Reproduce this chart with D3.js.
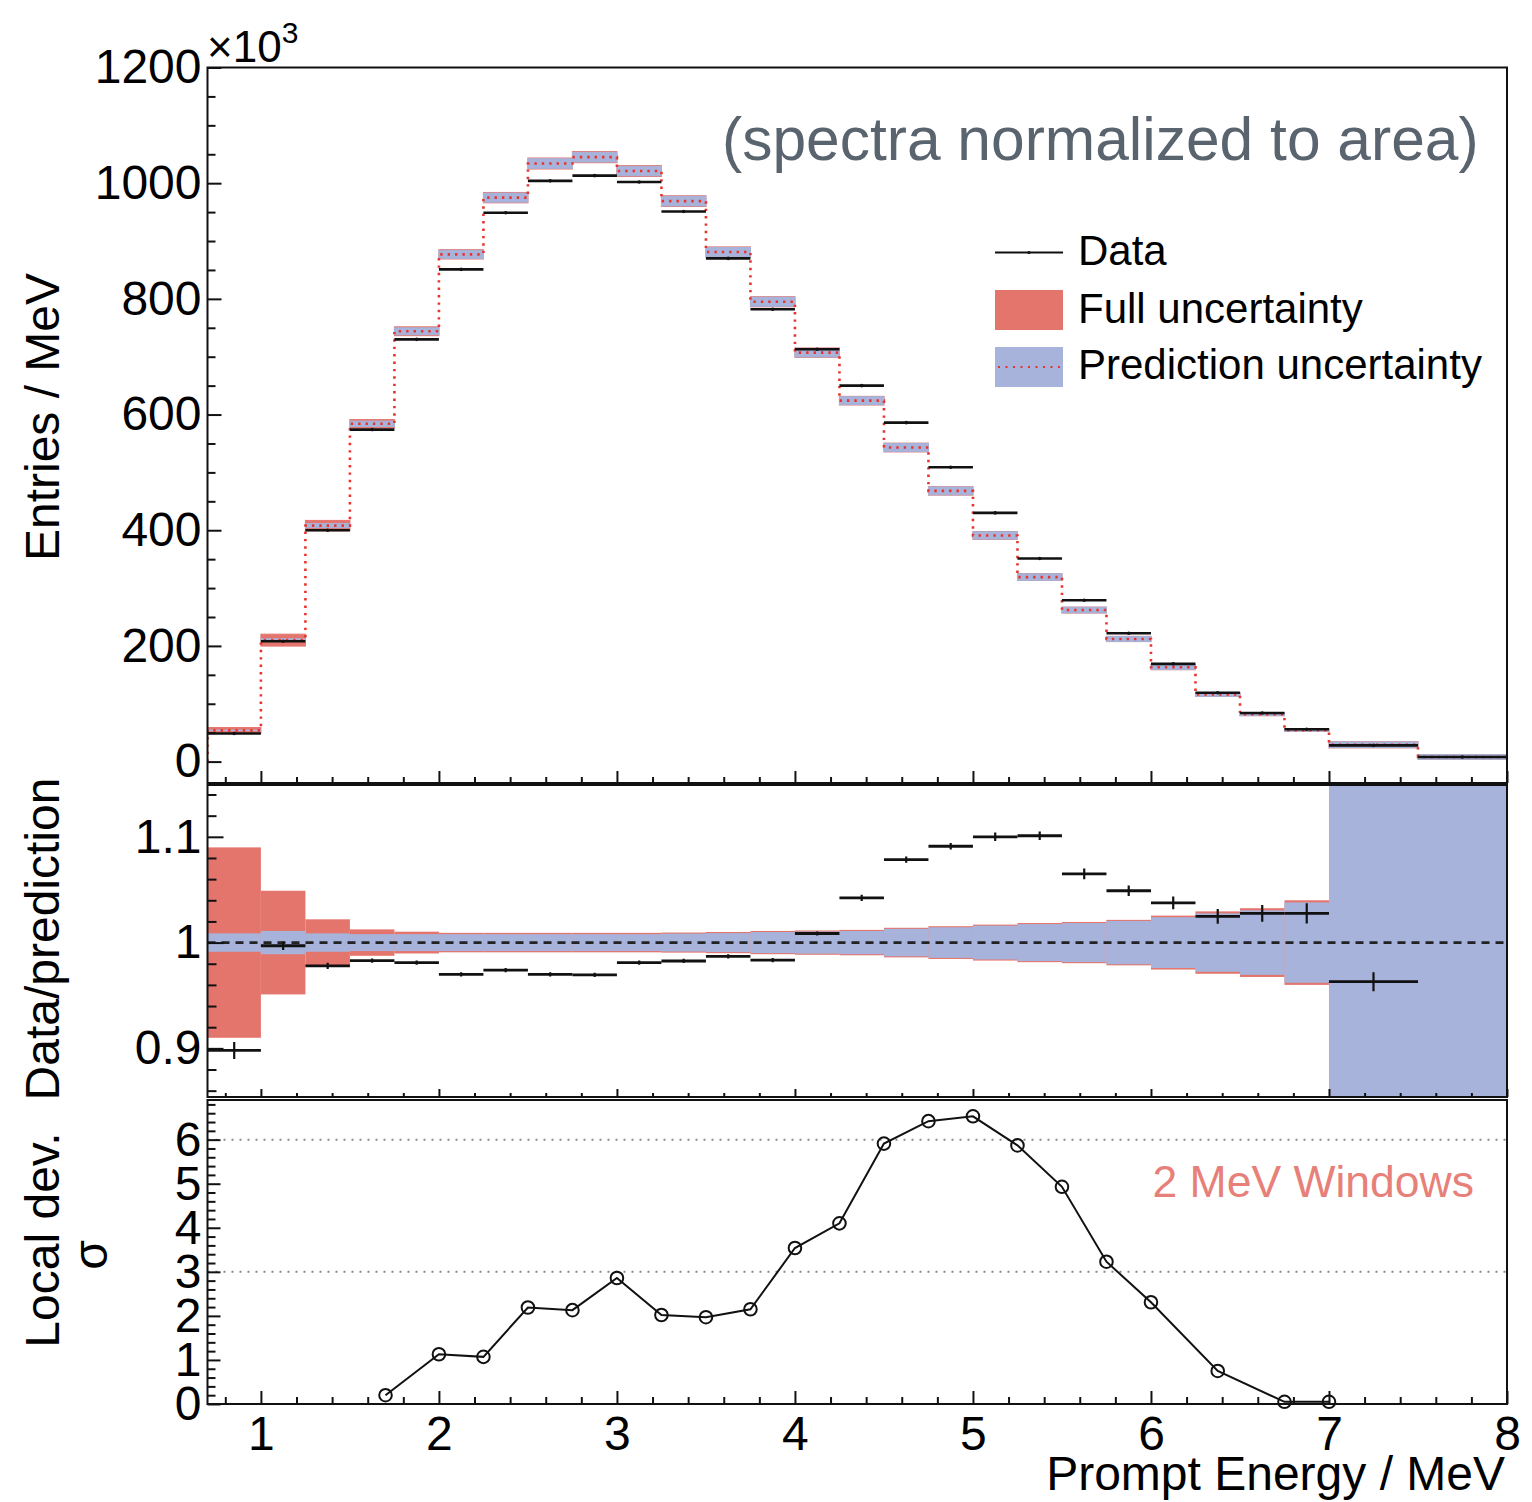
<!DOCTYPE html>
<html><head><meta charset="utf-8">
<script src="https://cdn.jsdelivr.net/npm/d3@7"></script>
<style>
body{margin:0;background:#fff}
svg{display:block}
text{font-family:"Liberation Sans",Arial,Helvetica,sans-serif}
</style>
</head><body>
<svg id="chart" width="1532" height="1502"></svg>
<script>
// ---------------- data ----------------
const binEdges = [0.7, 1.0, 1.25, 1.5, 1.75, 2.0, 2.25, 2.5, 2.75, 3.0, 3.25, 3.5, 3.75, 4.0,
  4.25, 4.5, 4.75, 5.0, 5.25, 5.5, 5.75, 6.0, 6.25, 6.5, 6.75, 7.0, 7.5, 8.0];
// entries / MeV in units of 10^3
const dataEntries = [48.5, 208, 400, 574, 730, 851, 949, 1004, 1013, 1002, 951, 870, 782, 713,
  650, 586, 509, 430, 351, 279, 222, 169, 119, 84, 56, 28, 8];
const predEntries = [54, 210, 408, 584, 744, 877, 975, 1034, 1045, 1021, 969, 881, 795, 707,
  624, 543, 468, 391, 319, 262, 212, 163, 116, 82, 54.5, 29, 8];
// relative half-widths of the uncertainty bands
const predRelUnc = [0.0087, 0.011, 0.0087, 0.008, 0.008, 0.008, 0.008, 0.008, 0.008, 0.008, 0.0085,
  0.009, 0.010, 0.0105, 0.011, 0.013, 0.0145, 0.016, 0.0175, 0.0185, 0.0205, 0.024, 0.0276, 0.0305, 0.038, 0.17, 0.5];
const fullRelUnc = [0.090, 0.049, 0.022, 0.0125, 0.0103, 0.0092, 0.0092, 0.0092, 0.0092, 0.0092, 0.0095,
  0.0100, 0.011, 0.0115, 0.012, 0.014, 0.0155, 0.017, 0.0185, 0.0195, 0.0215, 0.0255, 0.0295, 0.0325, 0.040, 0.18, 0.52];
// data / prediction
const ratioValues = [0.898, 0.997, 0.978, 0.983, 0.981, 0.970, 0.974, 0.970, 0.9695, 0.981, 0.9826,
  0.987, 0.9835, 1.0086, 1.0423, 1.0785, 1.0911, 1.100, 1.101, 1.065, 1.049, 1.0375, 1.0248, 1.0276, 1.0276, 0.963, null];
const ratioErrors = [0.008, 0.004, 0.003, 0.002, 0.002, 0.002, 0.002, 0.002, 0.002, 0.002, 0.002,
  0.002, 0.002, 0.002, 0.003, 0.003, 0.003, 0.004, 0.004, 0.005, 0.005, 0.006, 0.007, 0.008, 0.0095, 0.009, null];
// local deviation, 2 MeV windows
const sigmaEnergy = [1.7, 2.0, 2.25, 2.5, 2.75, 3.0, 3.25, 3.5, 3.75, 4.0, 4.25, 4.5, 4.75, 5.0,
  5.25, 5.5, 5.75, 6.0, 6.375, 6.75, 7.0];
const sigmaValues = [0.20, 1.13, 1.07, 2.19, 2.13, 2.86, 2.02, 1.97, 2.15, 3.54, 4.10, 5.91, 6.42, 6.53,
  5.87, 4.93, 3.23, 2.31, 0.75, 0.05, 0.05];
const sigmaRefLines = [3, 6];
// ticks
const xTicks = [1, 2, 3, 4, 5, 6, 7, 8];
const topYTicks = [0, 200, 400, 600, 800, 1000, 1200];
const ratioYTicks = [0.9, 1.0, 1.1];
const ratioYTickLabels = ["0.9", "1", "1.1"];
const sigmaYTicks = [0, 1, 2, 3, 4, 5, 6];

// ---------------- styles ----------------
const RED = "#e4756d", BLUE = "#a7b3da", DOTRED = "#e8342c";
const FONT = 48;

const svg = d3.select("#chart");
const L = 207.5, R = 1507;
const P1 = {top: 67.5, bottom: 783};
const P2 = {top: 785, bottom: 1097};
const P3 = {top: 1100, bottom: 1404};

const x = d3.scaleLinear().domain([0.7, 8]).range([L, R]);
const yTop = d3.scaleLinear().domain([-37, 1200]).range([P1.bottom, P1.top]);
const yRat = d3.scaleLinear().domain([0.854, 1.149]).range([P2.bottom, P2.top]);
const ySig = d3.scaleLinear().domain([0, 6.9]).range([P3.bottom, P3.top]);

const bins = binEdges.slice(0, -1).map((e, i) => ({
  x0: e, x1: binEdges[i + 1], d: dataEntries[i], p: predEntries[i],
  pu: predRelUnc[i], fu: fullRelUnc[i], r: ratioValues[i], re: ratioErrors[i]
}));

const defs = svg.append("defs");
[["clipTop", P1], ["clipMid", P2], ["clipBot", P3]].forEach(([id, P]) => {
  defs.append("clipPath").attr("id", id).append("rect")
    .attr("x", L).attr("y", P.top).attr("width", R - L).attr("height", P.bottom - P.top);
});

// ---------------- top panel ----------------
const gTop = svg.append("g").attr("clip-path", "url(#clipTop)");
gTop.selectAll("rect.full").data(bins).join("rect")
  .attr("x", d => x(d.x0)).attr("width", d => x(d.x1) - x(d.x0))
  .attr("y", d => yTop(d.p * (1 + d.fu))).attr("height", d => yTop(d.p * (1 - d.fu)) - yTop(d.p * (1 + d.fu)))
  .attr("fill", RED).attr("stroke", RED).attr("stroke-width", 1);
gTop.selectAll("rect.pred").data(bins).join("rect")
  .attr("x", d => x(d.x0)).attr("width", d => x(d.x1) - x(d.x0))
  .attr("y", d => yTop(d.p * (1 + d.pu))).attr("height", d => yTop(d.p * (1 - d.pu)) - yTop(d.p * (1 + d.pu)))
  .attr("fill", BLUE).attr("stroke", BLUE).attr("stroke-width", 1);

const stepPts = [[binEdges[0], 0]];
bins.forEach(b => { stepPts.push([b.x0, b.p]); stepPts.push([b.x1, b.p]); });
gTop.append("path")
  .attr("d", d3.line().x(d => x(d[0])).y(d => yTop(d[1]))(stepPts))
  .attr("fill", "none").attr("stroke", DOTRED).attr("stroke-width", 2.6)
  .attr("stroke-dasharray", "2.4,5").attr("stroke-linecap", "butt");

gTop.selectAll("line.data").data(bins).join("line")
  .attr("x1", d => x(d.x0)).attr("x2", d => x(d.x1))
  .attr("y1", d => yTop(d.d)).attr("y2", d => yTop(d.d))
  .attr("stroke", "#111").attr("stroke-width", 2.6);
gTop.selectAll("circle.data").data(bins).join("circle")
  .attr("cx", d => x((d.x0 + d.x1) / 2)).attr("cy", d => yTop(d.d)).attr("r", 1.8).attr("fill", "#111");

// ---------------- ratio panel ----------------
const gMid = svg.append("g").attr("clip-path", "url(#clipMid)");
gMid.selectAll("rect.full").data(bins).join("rect")
  .attr("x", d => x(d.x0)).attr("width", d => x(d.x1) - x(d.x0))
  .attr("y", d => yRat(1 + d.fu)).attr("height", d => yRat(1 - d.fu) - yRat(1 + d.fu))
  .attr("fill", RED);
gMid.selectAll("rect.pred").data(bins).join("rect")
  .attr("x", d => x(d.x0)).attr("width", d => x(d.x1) - x(d.x0))
  .attr("y", d => yRat(1 + d.pu)).attr("height", d => yRat(1 - d.pu) - yRat(1 + d.pu))
  .attr("fill", BLUE);
gMid.append("line")
  .attr("x1", L).attr("x2", R).attr("y1", yRat(1)).attr("y2", yRat(1))
  .attr("stroke", "#222").attr("stroke-width", 2.6).attr("stroke-dasharray", "8,6");
const rbins = bins.filter(b => b.r !== null);
gMid.selectAll("line.rh").data(rbins).join("line")
  .attr("x1", d => x(d.x0)).attr("x2", d => x(d.x1))
  .attr("y1", d => yRat(d.r)).attr("y2", d => yRat(d.r))
  .attr("stroke", "#111").attr("stroke-width", 2.8);
gMid.selectAll("line.rv").data(rbins).join("line")
  .attr("x1", d => x((d.x0 + d.x1) / 2)).attr("x2", d => x((d.x0 + d.x1) / 2))
  .attr("y1", d => yRat(d.r + d.re)).attr("y2", d => yRat(d.r - d.re))
  .attr("stroke", "#111").attr("stroke-width", 2.2);

// ---------------- sigma panel ----------------
const gBot = svg.append("g").attr("clip-path", "url(#clipBot)");
gBot.selectAll("line.ref").data(sigmaRefLines).join("line")
  .attr("x1", L).attr("x2", R).attr("y1", d => ySig(d)).attr("y2", d => ySig(d))
  .attr("stroke", "#8a8a8a").attr("stroke-width", 2).attr("stroke-dasharray", "2,6");
const sigPts = sigmaEnergy.map((e, i) => [e, sigmaValues[i]]);
svg.append("path")
  .attr("d", d3.line().x(d => x(d[0])).y(d => ySig(d[1]))(sigPts))
  .attr("fill", "none").attr("stroke", "#111").attr("stroke-width", 2);
svg.selectAll("circle.sig").data(sigPts).join("circle")
  .attr("cx", d => x(d[0])).attr("cy", d => ySig(d[1])).attr("r", 6.3)
  .attr("fill", "none").attr("stroke", "#111").attr("stroke-width", 2);

// ---------------- axes ----------------
function minorRange(lo, hi, step, majors) {
  const n = Math.round((hi - lo) / step);
  const out = [];
  for (let i = 0; i <= n; i++) {
    const v = +(lo + i * step).toFixed(6);
    if (!majors.some(m => Math.abs(m - v) < 1e-6)) out.push(v);
  }
  return out;
}
function styleAxis(g) {
  g.select(".domain").remove();
  g.selectAll(".tick line").attr("stroke", "#111").attr("stroke-width", 2);
  g.selectAll(".tick text").attr("font-size", FONT).attr("fill", "#000")
    .attr("font-family", "Liberation Sans, Arial, sans-serif");
  g.attr("font-size", null).attr("font-family", null);
}
const xMinor = minorRange(0.8, 7.8, 0.2, xTicks);

// x axes
function xAxes(yPos, majLen, minLen, labels) {
  svg.append("g").attr("transform", `translate(0,${yPos})`)
    .call(d3.axisBottom(x).tickValues(xTicks).tickSize(-majLen).tickPadding(12)
      .tickFormat(labels ? d3.format("d") : () => ""))
    .call(styleAxis);
  svg.append("g").attr("transform", `translate(0,${yPos})`)
    .call(d3.axisBottom(x).tickValues(xMinor).tickSize(-minLen).tickFormat(() => ""))
    .call(styleAxis);
}
xAxes(P1.bottom, 12, 6, false);
xAxes(P2.bottom, 8, 4, false);
xAxes(P3.bottom, 13, 7, true);

// y axes
function yAxes(scale, majors, minors, majLen, minLen, fmt) {
  svg.append("g").attr("transform", `translate(${L},0)`)
    .call(d3.axisLeft(scale).tickValues(majors).tickSize(-majLen).tickPadding(6).tickFormat(fmt))
    .call(styleAxis);
  svg.append("g").attr("transform", `translate(${L},0)`)
    .call(d3.axisLeft(scale).tickValues(minors).tickSize(-minLen).tickFormat(() => ""))
    .call(styleAxis);
}
yAxes(yTop, topYTicks, minorRange(0, 1200, 50, topYTicks), 14, 8, d3.format("d"));
yAxes(yRat, ratioYTicks, minorRange(0.86, 1.14, 0.02, ratioYTicks), 16, 9, (d, i) => ratioYTickLabels[i]);
yAxes(ySig, sigmaYTicks, minorRange(0, 6.8, 0.2, sigmaYTicks), 13, 8, d3.format("d"));

// frames
[P1, P2, P3].forEach(P => {
  svg.append("rect").attr("x", L).attr("y", P.top).attr("width", R - L).attr("height", P.bottom - P.top)
    .attr("fill", "none").attr("stroke", "#111").attr("stroke-width", 2);
});

// ---------------- texts ----------------
const mult = svg.append("text").attr("x", 207).attr("y", 62).attr("font-size", 44).attr("fill", "#000");
mult.append("tspan").text("\u00d710");
mult.append("tspan").attr("font-size", 30).attr("dy", -19).text("3");

svg.append("text").attr("transform", "translate(59,417) rotate(-90)")
  .attr("text-anchor", "middle").attr("font-size", FONT).text("Entries / MeV");
svg.append("text").attr("transform", "translate(59,939) rotate(-90)")
  .attr("text-anchor", "middle").attr("font-size", FONT).text("Data/prediction");
svg.append("text").attr("transform", "translate(59,1240) rotate(-90)")
  .attr("text-anchor", "middle").attr("font-size", FONT).text("Local dev.");
svg.append("text").attr("transform", "translate(107,1255) rotate(-90)")
  .attr("text-anchor", "middle").attr("font-size", FONT).text("\u03c3");

svg.append("text").attr("x", 1505).attr("y", 1490).attr("text-anchor", "end")
  .attr("font-size", FONT).text("Prompt Energy / MeV");

svg.append("text").attr("x", 722).attr("y", 160).attr("font-size", 60.5)
  .attr("fill", "#59646e").text("(spectra normalized to area)");
svg.append("text").attr("x", 1474).attr("y", 1197).attr("text-anchor", "end")
  .attr("font-size", 44.5).attr("fill", "#e8807a").text("2 MeV Windows");

// legend
const lg = svg.append("g");
lg.append("line").attr("x1", 995).attr("x2", 1063).attr("y1", 252.5).attr("y2", 252.5)
  .attr("stroke", "#111").attr("stroke-width", 2);
lg.append("circle").attr("cx", 1029).attr("cy", 252.5).attr("r", 1.6).attr("fill", "#111");
lg.append("rect").attr("x", 995).attr("y", 290).attr("width", 68).attr("height", 40).attr("fill", RED);
lg.append("rect").attr("x", 995).attr("y", 347).attr("width", 68).attr("height", 40).attr("fill", BLUE);
lg.append("line").attr("x1", 998).attr("x2", 1062).attr("y1", 367).attr("y2", 367)
  .attr("stroke", DOTRED).attr("stroke-width", 2).attr("stroke-dasharray", "2,5.5");
const legendLabels = ["Data", "Full uncertainty", "Prediction uncertainty"];
const legendBaselines = [265, 323, 379];
lg.selectAll("text").data(legendLabels).join("text")
  .attr("x", 1078).attr("y", (d, i) => legendBaselines[i]).attr("font-size", 42).text(d => d);
</script>
</body></html>
